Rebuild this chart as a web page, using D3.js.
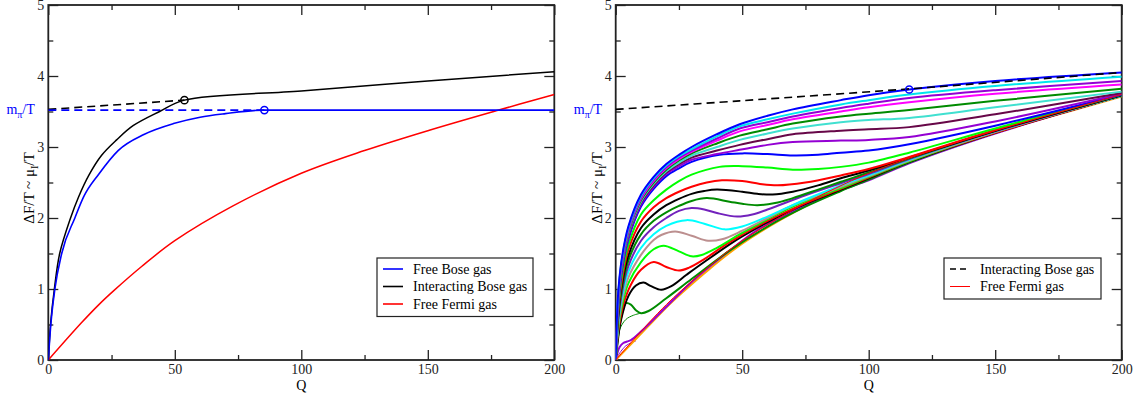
<!DOCTYPE html>
<html>
<head>
<meta charset="utf-8">
<script src="https://cdn.jsdelivr.net/npm/d3@7"></script>
<style>
body { margin: 0; background: #fff; }
svg { display: block; }
text { font-family: "Liberation Serif", "Times New Roman", serif; }
</style>
</head>
<body>
<svg id="chart" width="1144" height="401"></svg>
<script>
// ---- data ----
var qTicks = [0, 50, 100, 150, 200];
var qMinor = [25, 75, 125, 175];
var yTicks = [0, 1, 2, 3, 4, 5];
var yMinor = [0.5, 1.5, 2.5, 3.5, 4.5];
var mPi = 3.52;

// left panel
var freeBose = [[0,0],[1,0.5],[2.6,1],[5.3,1.5],[10.5,2],[14,2.3],[20,2.62],[27.6,2.95],[38,3.18],[49.5,3.33],[60,3.42],[70,3.47],[85.4,3.52],[120,3.52],[200,3.52]];
var freeBoseDash = [[0,3.52],[85.4,3.52]];
var interBose = [[0,0],[1,0.55],[2.4,1],[4.5,1.5],[8.8,2],[12,2.3],[16,2.6],[21,2.88],[27,3.1],[33.5,3.3],[44,3.5],[53.8,3.66],[100,3.79],[150,3.93],[200,4.06]];
var interBoseDash = [[0,3.53],[53.8,3.66]];
var freeFermi = [[0,0],[13,0.52],[20,0.78],[26,0.98],[37,1.32],[50,1.68],[73,2.17],[100,2.63],[125,2.95],[150,3.23],[177,3.51],[200,3.74]];
var leftMarks = [[53.8,3.66],[85.4,3.52]];

// right panel, top curve first
var rightCurves = [
  [[0,0],[1,0.95],[2.5,1.45],[5,1.88],[10,2.33],[15,2.58],[20,2.76],[25,2.89],[30,3.0],[40,3.18],[49,3.32],[60,3.44],[70,3.53],[89,3.66],[100,3.73],[116,3.81],[150,3.93],[200,4.05]],
  [[0,0],[1,0.93],[2.5,1.43],[5,1.86],[10,2.31],[15,2.56],[20,2.74],[25,2.87],[30,2.97],[40,3.15],[49,3.29],[60,3.39],[70,3.47],[89,3.6],[100,3.66],[116,3.74],[150,3.86],[200,3.99]],
  [[0,0],[1,0.91],[2.5,1.41],[5,1.84],[10,2.29],[15,2.54],[20,2.72],[25,2.85],[30,2.95],[40,3.12],[49,3.26],[60,3.35],[70,3.43],[89,3.55],[100,3.61],[116,3.69],[150,3.8],[200,3.93]],
  [[0,0],[1,0.89],[2.5,1.39],[5,1.82],[10,2.27],[15,2.52],[20,2.7],[25,2.83],[30,2.93],[40,3.09],[49,3.22],[60,3.31],[70,3.39],[89,3.5],[100,3.56],[116,3.63],[150,3.75],[200,3.88]],
  [[0,0],[1,0.87],[2.5,1.37],[5,1.8],[10,2.25],[15,2.5],[20,2.68],[25,2.81],[30,2.91],[40,3.05],[49,3.16],[60,3.25],[70,3.33],[89,3.43],[100,3.47],[116,3.52],[150,3.65],[200,3.82]],
  [[0,0],[1,0.85],[2.5,1.35],[5,1.78],[10,2.23],[15,2.48],[20,2.66],[25,2.78],[30,2.88],[40,3.0],[49,3.1],[60,3.19],[70,3.26],[89,3.35],[100,3.38],[116,3.41],[150,3.56],[200,3.78]],
  [[0,0],[1,0.83],[2.5,1.33],[5,1.76],[10,2.21],[15,2.46],[20,2.64],[25,2.76],[30,2.85],[40,2.95],[49,3.03],[60,3.11],[70,3.18],[89,3.23],[100,3.25],[116,3.28],[150,3.46],[200,3.76]],
  [[0,0],[1,0.8],[2.5,1.3],[5,1.73],[10,2.19],[15,2.44],[20,2.62],[25,2.73],[30,2.82],[40,2.9],[49,2.96],[60,3.03],[70,3.07],[89,3.09],[100,3.1],[116,3.14],[150,3.36],[200,3.75]],
  [[0,0],[1,0.77],[2.5,1.27],[5,1.7],[10,2.16],[15,2.41],[20,2.59],[25,2.7],[30,2.79],[41,2.89],[50,2.91],[60,2.9],[70,2.88],[80,2.89],[89,2.92],[100,2.95],[116,3.04],[150,3.3],[200,3.74]],
  [[0,0],[1,0.72],[2.5,1.2],[5,1.62],[10,2.05],[15,2.25],[20,2.4],[25,2.52],[30,2.61],[41,2.72],[50,2.73],[60,2.71],[70,2.68],[80,2.69],[89,2.72],[100,2.78],[116,2.92],[150,3.26],[200,3.74]],
  [[0,0],[1,0.68],[2.5,1.13],[5,1.55],[10,1.95],[15,2.15],[20,2.28],[25,2.37],[30,2.44],[36,2.5],[42,2.53],[50,2.52],[57,2.48],[64,2.46],[75,2.5],[89,2.6],[100,2.69],[116,2.86],[150,3.24],[200,3.74]],
  [[0,0],[1,0.64],[2.5,1.07],[5,1.47],[10,1.86],[15,2.05],[20,2.18],[25,2.27],[30,2.34],[35,2.38],[40,2.4],[50,2.37],[56,2.34],[62,2.33],[70,2.37],[80,2.46],[89,2.56],[100,2.67],[116,2.85],[150,3.23],[200,3.73]],
  [[0,0],[1,0.6],[2.5,1.01],[5,1.4],[10,1.77],[15,1.96],[20,2.08],[25,2.17],[30,2.24],[36,2.28],[45,2.23],[50,2.2],[56,2.18],[63,2.21],[70,2.28],[80,2.4],[89,2.51],[100,2.64],[116,2.84],[150,3.23],[200,3.73]],
  [[0,0],[1,0.56],[2.5,0.95],[5,1.32],[10,1.68],[15,1.87],[20,2.0],[25,2.1],[30,2.14],[35,2.12],[40,2.07],[48,2.02],[54,2.05],[60,2.12],[75,2.32],[89,2.49],[100,2.62],[116,2.83],[150,3.22],[200,3.73]],
  [[0,0],[1,0.52],[2.5,0.89],[5,1.24],[10,1.58],[15,1.77],[20,1.89],[28,1.97],[35,1.92],[43,1.84],[50,1.88],[60,2.02],[75,2.26],[89,2.46],[100,2.6],[116,2.82],[150,3.22],[200,3.72]],
  [[0,0],[1,0.48],[2.5,0.83],[5,1.16],[10,1.48],[15,1.69],[18,1.76],[23.5,1.81],[30,1.75],[36.5,1.68],[42,1.7],[50,1.82],[60,2.0],[70,2.18],[89,2.44],[100,2.59],[116,2.81],[150,3.21],[200,3.72]],
  [[0,0],[1,0.44],[2.5,0.77],[5,1.08],[10,1.38],[15,1.56],[19,1.61],[25,1.53],[30,1.46],[34,1.48],[40,1.58],[50,1.79],[70,2.16],[89,2.42],[100,2.58],[116,2.8],[150,3.21],[200,3.72]],
  [[0,0],[1,0.4],[3,0.78],[6,1.06],[10,1.27],[15,1.38],[20,1.31],[25,1.26],[29,1.3],[35,1.42],[45,1.66],[60,1.96],[75,2.21],[89,2.41],[100,2.57],[116,2.8],[150,3.2],[200,3.72]],
  [[0,0],[1,0.32],[2,0.55],[5,0.9],[8,1.05],[11,1.09],[14,1.04],[18,0.99],[22,1.04],[28,1.2],[35,1.38],[50,1.74],[70,2.12],[89,2.4],[100,2.56],[116,2.79],[150,3.2],[200,3.72]],
  [[0,0],[1,0.35],[2.5,0.65],[4,0.8],[6,0.78],[8,0.7],[10,0.66],[13,0.69],[20,0.87],[30,1.14],[45,1.54],[60,1.88],[75,2.16],[89,2.38],[100,2.54],[116,2.78],[150,3.2],[200,3.72]],
  [[0,0],[1.5,0.18],[3,0.24],[4.5,0.26],[6,0.28],[10,0.4],[20,0.75],[30,1.1],[45,1.54],[56,1.83],[75,2.18],[89,2.39],[100,2.53],[116,2.77],[150,3.19],[200,3.72]],
  [[0,0],[13,0.48],[20,0.74],[26,0.94],[37,1.28],[50,1.64],[73,2.13],[100,2.59],[125,2.92],[150,3.2],[177,3.48],[200,3.71]]
];
var rightBranches = [
  [[0,0],[1.5,0.42],[4,0.57],[7,0.63],[10,0.66]],
  [[0,0],[2,0.12],[4,0.2],[6,0.24],[8,0.27]]
];
var rightDash = [[0,3.53],[49,3.65],[128,3.85],[200,4.05]];
var rightMarks = [[116,3.81]];

var leftLegend = ["Free Bose gas", "Interacting Bose gas", "Free Fermi gas"];
var rightLegend = ["Interacting Bose gas", "Free Fermi gas"];

// ---- drawing ----
var svg = d3.select("#chart");
var plotTop = 5, plotBottom = 360;

function makePanel(x0, x1) {
  var x = d3.scaleLinear().domain([0, 200]).range([x0, x1]);
  var y = d3.scaleLinear().domain([0, 5]).range([plotBottom, plotTop]);
  var g = svg.append("g");

  // ticks on all four sides, pointing inwards
  function ticks(axis, tx, ty, vals, len, labels) {
    var a = g.append("g").attr("transform", "translate(" + tx + "," + ty + ")")
      .call(axis.tickValues(vals).tickSize(-len).tickPadding(4)
        .tickFormat(labels ? d3.format("d") : ""));
    a.select(".domain").remove();
    a.selectAll("line").attr("stroke", "#222").attr("stroke-width", 1.3);
    a.selectAll("text").attr("fill", "#222").style("font-size", "14px")
      .style("font-family", '"Liberation Serif", serif');
  }
  ticks(d3.axisBottom(x), 0, plotBottom, qTicks, 10, true);
  ticks(d3.axisBottom(x), 0, plotBottom, qMinor, 5, false);
  ticks(d3.axisTop(x), 0, plotTop, qTicks, 10, false);
  ticks(d3.axisTop(x), 0, plotTop, qMinor, 5, false);
  ticks(d3.axisLeft(y), x0, 0, yTicks, 10, true);
  ticks(d3.axisLeft(y), x0, 0, yMinor, 5, false);
  ticks(d3.axisRight(y), x1, 0, yTicks, 10, false);
  ticks(d3.axisRight(y), x1, 0, yMinor, 5, false);

  g.append("rect")
    .attr("x", x0).attr("y", plotTop)
    .attr("width", x1 - x0).attr("height", plotBottom - plotTop)
    .attr("fill", "none").attr("stroke", "#222").attr("stroke-width", 1.8);

  // axis titles
  g.append("text").attr("x", (x0 + x1) / 2).attr("y", 390)
    .attr("text-anchor", "middle").style("font-size", "14px").text("Q");
  var yl = g.append("text")
    .attr("transform", "translate(" + (x0 - 14) + "," + 188 + ") rotate(-90)")
    .attr("text-anchor", "middle").style("font-size", "15px");
  yl.append("tspan").text("\u0394F/T ~ \u03bc");
  yl.append("tspan").attr("dy", 4).style("font-size", "10px").text("I");
  yl.append("tspan").attr("dy", -4).text("/T");

  var ml = g.append("text").attr("x", x0 - 13.5).attr("y", y(mPi) + 3.5)
    .attr("text-anchor", "end").attr("fill", "#0000ff").style("font-size", "14px");
  ml.append("tspan").text("m");
  ml.append("tspan").attr("dy", 4).style("font-size", "10px").text("\u03c0");
  ml.append("tspan").attr("dy", -4).text("/T");

  var clip = "clip" + Math.round(x0);
  svg.append("clipPath").attr("id", clip).append("rect")
    .attr("x", x0).attr("y", plotTop).attr("width", x1 - x0).attr("height", plotBottom - plotTop);
  var plot = g.append("g").attr("clip-path", "url(#" + clip + ")");

  return { x: x, y: y, g: g, plot: plot };
}

function drawLine(p, data, color, width, dash, curve) {
  var line = d3.line()
    .x(function(d) { return p.x(d[0]); })
    .y(function(d) { return p.y(d[1]); })
    .curve(curve || d3.curveCatmullRom.alpha(0.5));
  p.plot.append("path").datum(data)
    .attr("d", line)
    .attr("fill", "none")
    .attr("stroke", color)
    .attr("stroke-width", width)
    .attr("stroke-dasharray", dash || null);
}

function drawMarks(p, data, color) {
  p.g.selectAll(null).data(data).enter().append("circle")
    .attr("cx", function(d) { return p.x(d[0]); })
    .attr("cy", function(d) { return p.y(d[1]); })
    .attr("r", 3.6)
    .attr("fill", "none").attr("stroke", color).attr("stroke-width", 1.5);
}

function drawLegend(p, x, y, w, labels, styles) {
  var h = labels.length * 17.5 + 6;
  p.g.append("rect").attr("x", x).attr("y", y).attr("width", w).attr("height", h)
    .attr("fill", "#fff").attr("stroke", "#222").attr("stroke-width", 1.2);
  labels.forEach(function(t, i) {
    var yy = y + 11 + i * 17.5;
    p.g.append("line").attr("x1", x + 6).attr("x2", x + 26).attr("y1", yy).attr("y2", yy)
      .attr("stroke", styles[i][0]).attr("stroke-width", styles[i][1])
      .attr("stroke-dasharray", styles[i][2] || null);
    p.g.append("text").attr("x", x + 36).attr("y", yy + 4.5)
      .style("font-size", "14px").text(t);
  });
}

// left panel
var L = makePanel(48.3, 554.3);
drawLine(L, freeFermi, "#ff0000", 1.5);
drawLine(L, interBoseDash, "#000", 1.6, "8,5");
drawLine(L, freeBoseDash, "#0000ff", 1.6, "8,5");
drawLine(L, interBose, "#000", 1.5);
drawLine(L, freeBose, "#0000ff", 1.6, null, d3.curveMonotoneX);
drawMarks(L, [leftMarks[0]], "#000");
drawMarks(L, [leftMarks[1]], "#0000ff");
drawLegend(L, 377, 258, 156, leftLegend,
  [["#0000ff", 1.6], ["#000", 1.6], ["#ff0000", 1.6]]);

// right panel
var R = makePanel(615.7, 1121.7);
var rightColors = ["#0000ff", "#00e5ee", "#9400d3", "#ff00ff", "#008b00", "#40e0d0", "#670748",
  "#9400d3", "#0000ff", "#00ff00", "#ff0000", "#000000", "#008b00", "#7221bc", "#00ffff",
  "#bc8f8f", "#00ff00", "#ff0000", "#000000", "#008b00", "#9400d3", "#ffa500"];
drawLine(R, rightBranches[0], "#008b00", 1);
drawLine(R, rightBranches[1], "#9400d3", 1);
for (var i = rightCurves.length - 1; i >= 0; i--) {
  drawLine(R, rightCurves[i], rightColors[i], 2);
}
drawLine(R, freeFermi, "#ff0000", 1);
drawLine(R, rightDash, "#000", 1.6, "8,5");
drawMarks(R, rightMarks, "#0000ff");
drawLegend(R, 944, 258, 157, rightLegend, [["#000", 1.6, "6,4"], ["#ff0000", 1]]);
</script>
</body>
</html>
